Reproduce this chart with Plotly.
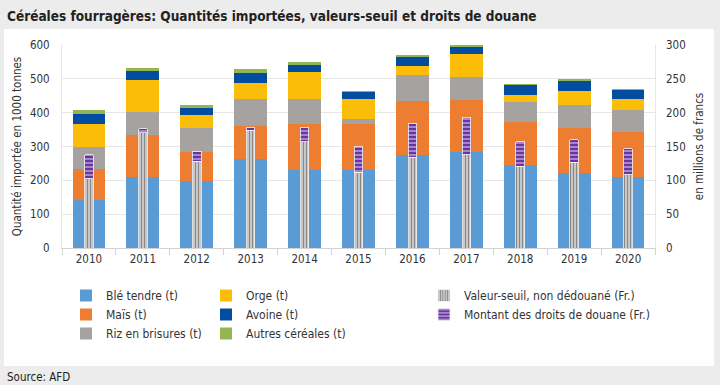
import plotly.graph_objects as go

years = ["2010", "2011", "2012", "2013", "2014", "2015", "2016", "2017", "2018", "2019", "2020"]

# quantities in 1000 t (stack segments)
ble_tendre = [143, 210, 198, 264, 231, 231, 276, 285, 244, 221, 210]
mais = [91, 124, 87, 97, 136, 136, 159, 151, 129, 134, 134]
riz = [66, 69, 71, 78, 74, 13, 77, 70, 60, 68, 64]
orge = [66, 94, 37, 50, 80, 61, 25, 67, 20, 40, 33]
avoine = [31, 26, 22, 28, 21, 21, 27, 23, 29, 32, 26]
autres = [10, 10, 8, 11, 8, 2, 7, 2, 2, 2, 2]

valeur_seuil = [102, 170, 128, 174, 157, 112, 134, 138, 121, 127, 108]  # Mio Fr.
droits_douane = [36, 6, 15, 4, 21, 38, 50, 55, 36, 33, 39]  # Mio Fr.

left_ticks = [0, 100, 200, 300, 400, 500, 600]
right_ticks = [0, 50, 100, 150, 200, 250, 300]

FONT = "DejaVu Sans Condensed, Liberation Sans Narrow, sans-serif"
TXT = "#333333"
FS = 11.5

fig = go.Figure()

stack_series = [
    ("Blé tendre (t)", ble_tendre, "#5b9bd5", "legend", 1),
    ("Maïs (t)", mais, "#ed7d31", "legend", 2),
    ("Riz en brisures (t)", riz, "#a5a2a0", "legend", 3),
    ("Orge (t)", orge, "#fbbd08", "legend2", 1),
    ("Avoine (t)", avoine, "#034da0", "legend2", 2),
    ("Autres céréales (t)", autres, "#93b650", "legend2", 3),
]
for name, vals, col, leg, rank in stack_series:
    fig.add_trace(go.Bar(
        x=years, y=vals, name=name, marker=dict(color=col, line=dict(width=0)),
        width=0.61, legend=leg, legendrank=rank, yaxis="y",
    ))

fig.add_trace(go.Bar(
    x=years, y=valeur_seuil, name="Valeur-seuil, non dédouané (Fr.)",
    marker=dict(color="#dcdcdc", line=dict(width=0.8, color="#f2f2f2"),
                pattern=dict(shape="|", fgcolor="#333333", bgcolor="#dcdcdc", size=3, solidity=0.5)),
    width=0.16, yaxis="y2", legend="legend3", legendrank=1,
))
fig.add_trace(go.Bar(
    x=years, y=droits_douane, name="Montant des droits de douane (Fr.)",
    marker=dict(color="#6a34a3", line=dict(width=0.8, color="#f2f2f2"),
                pattern=dict(shape="-", fgcolor="#ffffff", bgcolor="#6a34a3", size=4, solidity=0.4)),
    width=0.16, yaxis="y2", legend="legend3", legendrank=2,
))

L, R, T, B = 62, 65, 45, 137
W, H = 720, 385
pw, ph = W - L - R, H - T - B


def px(x):
    return (x - L) / pw


def py(y):
    return (H - B - y) / ph


leg_common = dict(
    orientation="v", yanchor="top", xanchor="left", y=py(281),
    font=dict(family=FONT, size=12, color=TXT), bgcolor="rgba(0,0,0,0)",
    tracegroupgap=0, itemwidth=30, traceorder="normal",
)

fig.update_layout(
    width=W, height=H,
    margin=dict(l=L, r=R, t=T, b=B),
    paper_bgcolor="#ececec", plot_bgcolor="white",
    barmode="stack", bargap=0.39,
    font=dict(family=FONT, size=FS, color=TXT),
    xaxis=dict(
        type="category", showgrid=False, showline=True, linecolor="#d4d4d4", linewidth=1,
        ticks="outside", tickson="boundaries", ticklen=6, tickcolor="#d4d4d4",
        tickfont=dict(family=FONT, size=FS, color=TXT),
    ),
    yaxis=dict(
        range=[0, 600], tickvals=left_ticks, showgrid=True, gridcolor="#e6e6e6",
        showline=True, linecolor="#e6e6e6", mirror=True, zeroline=False, ticks="",
        tickfont=dict(family=FONT, size=FS, color=TXT), ticklabelstandoff=9,
        title=dict(text="Quantité importée en 1000 tonnes", font=dict(family=FONT, size=FS, color=TXT), standoff=5),
    ),
    yaxis2=dict(
        range=[0, 300], tickvals=right_ticks, overlaying="y", side="right", showgrid=False,
        zeroline=False, showline=False, ticks="",
        tickfont=dict(family=FONT, size=FS, color=TXT), ticklabelstandoff=10,
        title=dict(text="en millions de francs", font=dict(family=FONT, size=FS, color=TXT), standoff=10),
    ),
    legend=dict(leg_common, x=px(66)),
    legend2=dict(leg_common, x=px(206)),
    legend3=dict(leg_common, x=px(424)),
    showlegend=True,
    shapes=[dict(type="rect", xref="paper", yref="paper", x0=px(4), x1=px(714), y0=py(366), y1=py(29),
                 fillcolor="white", line=dict(width=0), layer="below")],
    annotations=[
        dict(text="<b>Céréales fourragères: Quantités importées, valeurs-seuil et droits de douane</b>",
             xref="paper", yref="paper", x=px(5), y=py(16), xanchor="left", yanchor="middle",
             showarrow=False, font=dict(family=FONT, size=13.5, color="#222222")),
        dict(text="Source: AFD", xref="paper", yref="paper", x=px(5), y=py(377), xanchor="left",
             yanchor="middle", showarrow=False, font=dict(family=FONT, size=11.5, color="#222222")),
    ],
)

fig.write_html("out.html", config={"displayModeBar": False},
               post_script="document.body.style.margin='0';")
